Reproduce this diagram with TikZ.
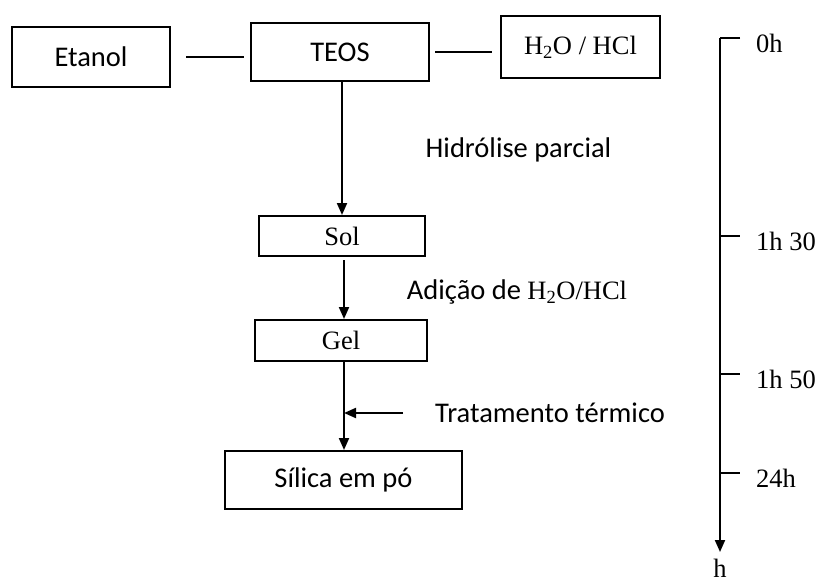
\documentclass[tikz,border=0pt]{standalone}
\usepackage{fontspec}
\setmainfont{Liberation Serif}
\newfontfamily\calib{Carlito}
\usetikzlibrary{arrows.meta}
\tikzset{
  box/.style={draw, line width=2pt, inner sep=0pt, rectangle},
  sanslbl/.style={font=\calib\fontsize{28.5}{30}\selectfont, inner sep=0pt},
  seriflbl/.style={font=\fontsize{26.5}{28}\selectfont, inner sep=0pt},
  conn/.style={line width=2pt},
  arr/.style={line width=2pt, -{Triangle[length=12pt,width=10pt]}},
}
\begin{document}
\begin{tikzpicture}[x=1pt,y=-1pt]
\useasboundingbox (0,0) rectangle (817,583);
% boxes
\node[box, minimum width=158pt, minimum height=60pt, sanslbl] (etanol) at (91,57) {Etanol};
\node[box, minimum width=178pt, minimum height=58pt, sanslbl] (teos) at (340,52) {TEOS};
\node[box, minimum width=159pt, minimum height=62pt, seriflbl] (acid) at (580.5,47) {H\textsubscript{2}O / HCl};
\node[box, minimum width=166pt, minimum height=40pt, seriflbl] (sol) at (342,236) {Sol};
\node[box, minimum width=172pt, minimum height=41pt, seriflbl] (gel) at (341,340.5) {Gel};
\node[box, minimum width=237pt, minimum height=58pt, sanslbl] (silica) at (343.5,480) {Sílica em pó};
% side labels
\node[sanslbl] (hidro) at (518.5,150) {Hidrólise parcial};
\node[inner sep=0pt] (adic) at (517,292) {{\calib\fontsize{28.5}{30}\selectfont Adição de }{\fontsize{26.5}{28}\selectfont H\textsubscript{2}O/HCl}};
\node[sanslbl] (trat) at (550,413) {Tratamento térmico};
% connectors
\draw[conn, shorten <=15pt, shorten >=6pt] (etanol.east) -- (etanol.east -| teos.west);
\draw[conn, shorten <=5pt, shorten >=8pt] (teos.east) -- (teos.east -| acid.west);
\draw[arr] (teos.south -| sol.north) -- (sol.north);
\draw[arr, shorten <=3pt] (sol.south -| 344,0) -- (gel.north -| 344,0);
\coordinate (gs) at (344,413);
\draw[arr] (gel.south -| 344,0) -- (silica.north -| 344,0);
\coordinate (tstart) at (403,413);
\draw[arr] (tstart) -- (gs);
% timeline
\coordinate (t0) at (720,38);
\coordinate (tend) at (720,552);
\draw[conn] (740,38) -- (t0);
\draw[arr] (t0) -- (tend);
\coordinate (k1) at (720,236);
\coordinate (k2) at (720,374);
\coordinate (k3) at (720,473);
\draw[conn] (k1) -- ++(20,0);
\draw[conn] (k2) -- ++(20,0);
\draw[conn] (k3) -- ++(20,0);
\node[seriflbl, anchor=west] (l0) at (756,43) {0h};
\node[seriflbl, anchor=west] (l1) at (756,241) {1h 30};
\node[seriflbl, anchor=west] (l2) at (756,379) {1h 50};
\node[seriflbl, anchor=west] (l3) at (756,478) {24h};
\node[seriflbl] (lh) at (720,568) {h};
\end{tikzpicture}
\end{document}
